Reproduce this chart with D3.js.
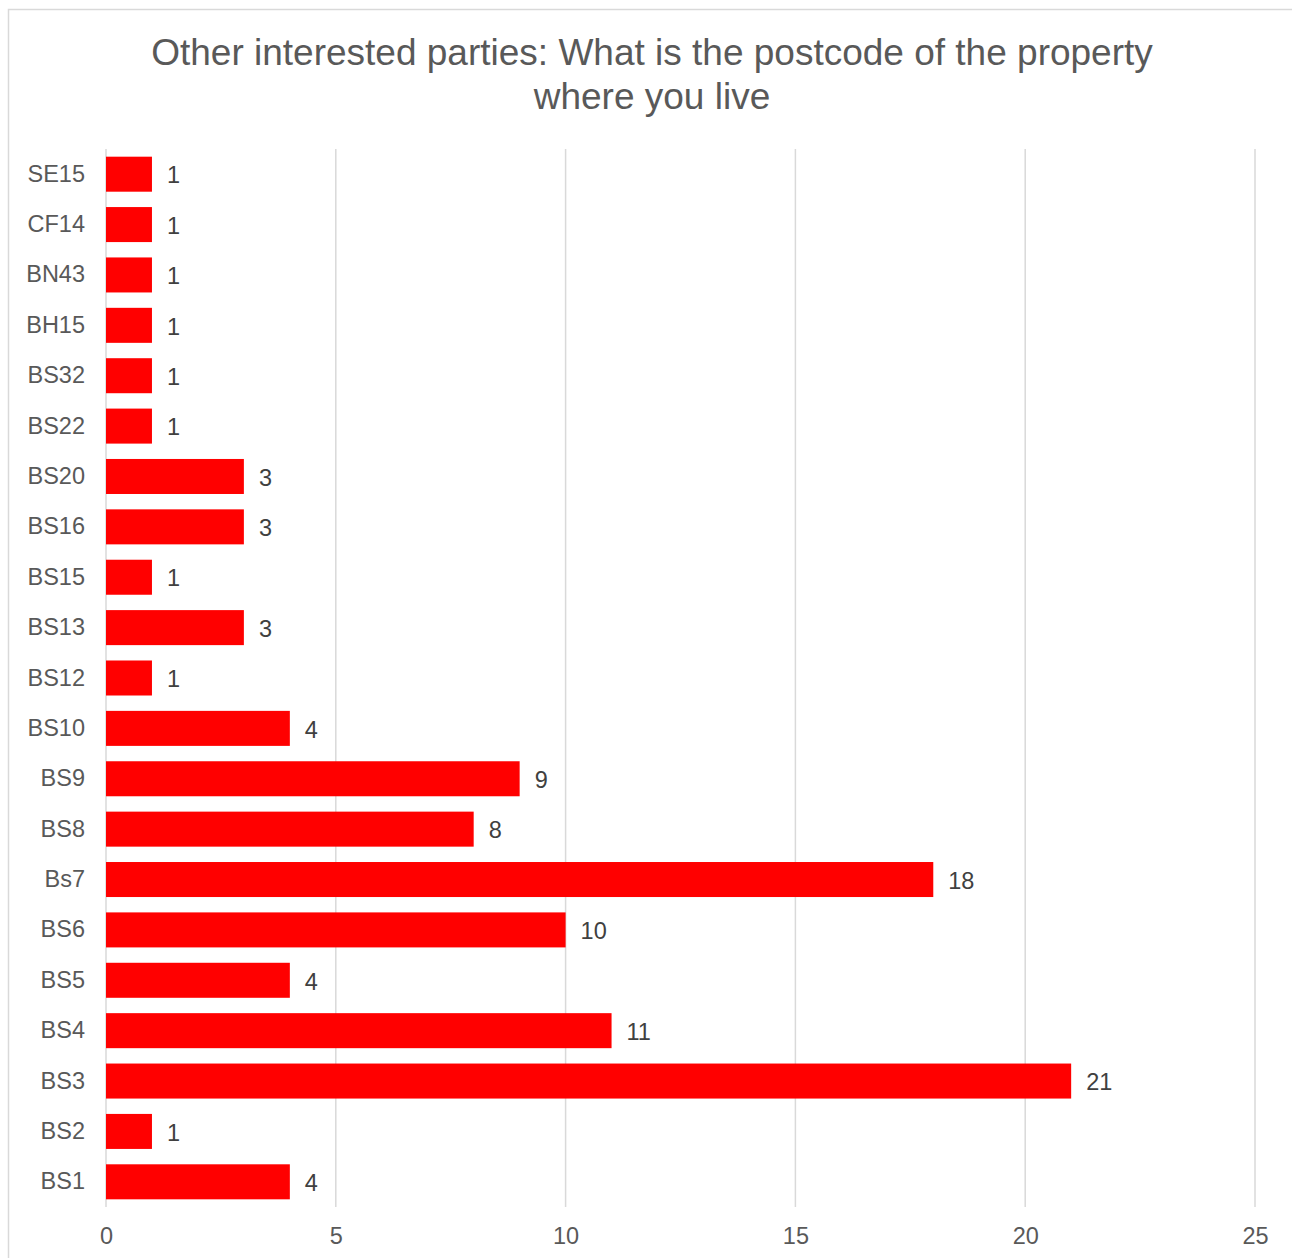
<!DOCTYPE html>
<html><head><meta charset="utf-8">
<script src="https://cdn.jsdelivr.net/npm/d3@7"></script>
<style>body{margin:0;background:#fff;} svg{display:block;}</style>
</head><body>
<script>
const categories = ["SE15","CF14","BN43","BH15","BS32","BS22","BS20","BS16","BS15","BS13","BS12","BS10","BS9","BS8","Bs7","BS6","BS5","BS4","BS3","BS2","BS1"];
const values = [1,1,1,1,1,1,3,3,1,3,1,4,9,8,18,10,4,11,21,1,4];
const xTicks = [0,5,10,15,20,25];
const titleLines = ["Other interested parties: What is the postcode of the property","where you live"];

const W = 1292, H = 1258;
const svg = d3.select("body").append("svg").attr("width", W).attr("height", H);
const font = "'Liberation Sans', Arial, sans-serif";

svg.append("rect").attr("x", 8.5).attr("y", 9.5).attr("width", W + 20).attr("height", H + 20)
  .attr("fill", "#fff").attr("stroke", "#d9d9d9").attr("stroke-width", 1.5);

const x = d3.scaleLinear().domain([0, 25]).range([106, 1255]);
const y = d3.scaleBand().domain(categories).range([149, 1207]).paddingInner(0.305).paddingOuter(0.1525);

// gridlines
svg.append("g").selectAll("line").data(xTicks).join("line")
  .attr("x1", d => x(d)).attr("x2", d => x(d)).attr("y1", 149).attr("y2", 1207)
  .attr("stroke", "#d9d9d9").attr("stroke-width", 1.5);

// bars
svg.append("g").selectAll("rect").data(values).join("rect")
  .attr("x", x(0)).attr("y", (d, i) => y(categories[i]))
  .attr("width", d => x(d) - x(0)).attr("height", y.bandwidth())
  .attr("fill", "#ff0000");

// value labels
svg.append("g").selectAll("text").data(values).join("text")
  .attr("x", d => x(d) + 15).attr("y", (d, i) => y(categories[i]) + y.bandwidth() / 2 + 1)
  .attr("dy", "0.35em").attr("font-family", font).attr("font-size", 23.5).attr("fill", "#404040")
  .text(d => d);

// y axis labels
const yAxis = d3.axisLeft(y).tickSize(0).tickPadding(21);
const gy = svg.append("g").attr("transform", `translate(${x(0)},0)`).call(yAxis);
gy.select(".domain").remove();
gy.selectAll("text").attr("font-family", font).attr("font-size", 23.5).attr("fill", "#595959");

// x axis
const xAxis = d3.axisBottom(x).tickValues(xTicks).tickSize(0).tickPadding(20);
const gx = svg.append("g").attr("transform", `translate(0,1207)`).call(xAxis);
gx.select(".domain").remove();
gx.selectAll("text").attr("font-family", font).attr("font-size", 23.5).attr("fill", "#595959");

// title
svg.append("g").selectAll("text").data(titleLines).join("text")
  .attr("x", 652).attr("y", (d, i) => 65 + i * 44)
  .attr("text-anchor", "middle").attr("font-family", font).attr("font-size", 37).attr("fill", "#595959")
  .text(d => d);
</script>
</body></html>
